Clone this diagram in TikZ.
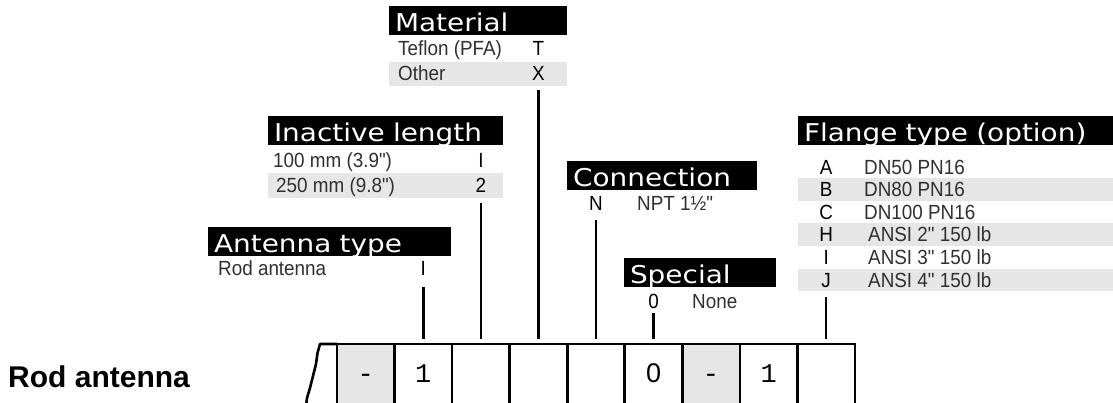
\documentclass[tikz,border=0pt]{standalone}
\usepackage{fontspec}
\newfontfamily\hdrfont[FakeStretch=1.14]{DejaVu Sans}
\newfontfamily\bodyfont[FakeStretch=0.92]{Liberation Sans}
\newfontfamily\titlefont{Liberation Sans}
\newfontfamily\cellfont{Liberation Mono}
\definecolor{rowgray}{HTML}{E6E6E6}
\definecolor{bodytext}{HTML}{303030}
\tikzset{
  hdr/.style={anchor=north west, fill=black, text=white, inner xsep=6pt, inner ysep=0pt,
    outer sep=0pt, font=\hdrfont\fontsize{24.5pt}{28pt}\selectfont,
    text height=25pt, text depth=4pt, align=left},
  band/.style={anchor=north west, fill=rowgray, inner sep=0pt, outer sep=0pt, minimum height=#1},
  band/.default=24.5pt,
  desc/.style={anchor=west, inner sep=0pt, text=bodytext,
    font=\bodyfont\fontsize{20.5pt}{24pt}\selectfont, text height=14.7pt, text depth=0pt},
  code/.style={anchor=center, inner sep=0pt, text=black,
    font=\bodyfont\fontsize{20.5pt}{24pt}\selectfont, text height=14.7pt, text depth=0pt},
  cell/.style={anchor=north west, draw, line width=2.6pt, outer sep=0pt,
    minimum width=57.55pt, minimum height=60pt, inner sep=0pt,
    font=\cellfont\fontsize{27pt}{30pt}\selectfont, text height=16pt, text depth=0pt},
  lead/.style={line width=2.6pt},
  outline/.style={line width=2.6pt, line join=round},
}
\begin{document}
\begin{tikzpicture}[x=1pt, y=-1pt]
\useasboundingbox (0,0) rectangle (1113,402);
\fill[white] (0,0) rectangle (1113,402);
\clip (0,0) rectangle (1113,402);

% ---- order code boxes ----
\node[cell, fill=rowgray] (c1) at (337,344) {-};
\node[cell] (c2) at (c1.north east) {1};
\node[cell] (c3) at (c2.north east) {};
\node[cell] (c4) at (c3.north east) {};
\node[cell] (c5) at (c4.north east) {};
\node[cell] (c6) at (c5.north east) {{\titlefont 0}};
\node[cell, fill=rowgray] (c7) at (c6.north east) {-};
\node[cell] (c8) at (c7.north east) {1};
\node[cell] (c9) at (c8.north east) {};

% broken-off left edge of the code strip
\coordinate (jagTop) at (320,344);
\draw[outline] (c1.north west) -- (jagTop) -- (317.5,353) -- (316,364) -- (313,376)
  -- (310,388) -- (307,398) -- (306,406);

\node[anchor=west, inner sep=0pt, font=\titlefont\bfseries\fontsize{30pt}{34pt}\selectfont,
  text height=21.5pt, text depth=0pt] (title) at (8,377) {Rod antenna};

% ---- Material ----
\node[hdr, text width=166pt] (matH) at (389,6) {Material};
\node[band, minimum width=178pt] (matB2) at (389,61.5) {};
\node[desc] (mat1) at (398,48.5) {Teflon (PFA)};
\node[desc] (mat2) at (398,73.5) {Other};
\node[code] (matT) at (c4.north |- 0,48.5) {T};
\node[code] (matX) at (c4.north |- 0,73.5) {X};
\coordinate (matTop) at (c4.north |- 0,90);
\draw[lead] (matTop) -- ([yshift=5pt]c4.north);

% ---- Inactive length ----
\node[hdr, text width=223pt] (inaH) at (268,116) {Inactive length};
\node[band, minimum width=235pt] (inaB2) at (268,173) {};
\node[desc] (ina1) at (273,160) {100 mm (3.9")};
\node[desc] (ina2) at (276,185.5) {250 mm (9.8")};
\node[code] (inaI) at (c3.north |- 0,160) {I};
\node[code] (ina2c) at (c3.north |- 0,185.5) {2};
\coordinate (inaTop) at (c3.north |- 0,203);
\draw[lead] (inaTop) -- ([yshift=5pt]c3.north);

% ---- Antenna type ----
\node[hdr, text width=231pt] (antH) at (208,227) {Antenna type};
\node[desc] (ant1) at (218,268) {Rod antenna};
\node[code] (antI) at (c2.north |- 0,268) {I};
\coordinate (antTop) at (c2.north |- 0,287);
\draw[lead] (antTop) -- ([yshift=5pt]c2.north);

% ---- Connection ----
\node[hdr, text width=178pt] (conH) at (567,161) {Connection};
\node[code] (conN) at (c5.north |- 0,203) {N};
\node[desc] (con1) at (637,203) {NPT 1½"};
\coordinate (conTop) at (c5.north |- 0,220);
\draw[lead] (conTop) -- ([yshift=5pt]c5.north);

% ---- Special ----
\node[hdr, text width=140pt] (spcH) at (624,258) {Special};
\node[code] (spc0) at (c6.north |- 0,301) {0};
\node[desc] (spc1) at (692,301) {None};
\coordinate (spcTop) at (c6.north |- 0,313);
\draw[lead] (spcTop) -- ([yshift=5pt]c6.north);

% ---- Flange type ----
\node[hdr, text width=303pt] (flgH) at (798,116) {Flange type (option)};
\node[band=22.6pt, minimum width=315pt] (flgBB) at (798,178.1) {};
\node[band=22.6pt, minimum width=315pt] (flgBH) at (798,223.3) {};
\node[band=22.6pt, minimum width=315pt] (flgBJ) at (798,268.5) {};
\node[code] (flgA) at (c9.north |- 0,166.8) {A};
\node[code] (flgB) at (c9.north |- 0,189.4) {B};
\node[code] (flgC) at (c9.north |- 0,212.0) {C};
\node[code] (flgHc) at (c9.north |- 0,234.6) {H};
\node[code] (flgI) at (c9.north |- 0,257.2) {I};
\node[code] (flgJ) at (c9.north |- 0,279.8) {J};
\node[desc] (flg1) at (864,166.8) {DN50 PN16};
\node[desc] (flg2) at (864,189.4) {DN80 PN16};
\node[desc] (flg3) at (864,212.0) {DN100 PN16};
\node[desc] (flg4) at (868,234.6) {ANSI 2" 150 lb};
\node[desc] (flg5) at (868,257.2) {ANSI 3" 150 lb};
\node[desc] (flg6) at (868,279.8) {ANSI 4" 150 lb};
\coordinate (flgTop) at (c9.north |- 0,297);
\draw[lead] (flgTop) -- ([yshift=5pt]c9.north);
\end{tikzpicture}
\end{document}
